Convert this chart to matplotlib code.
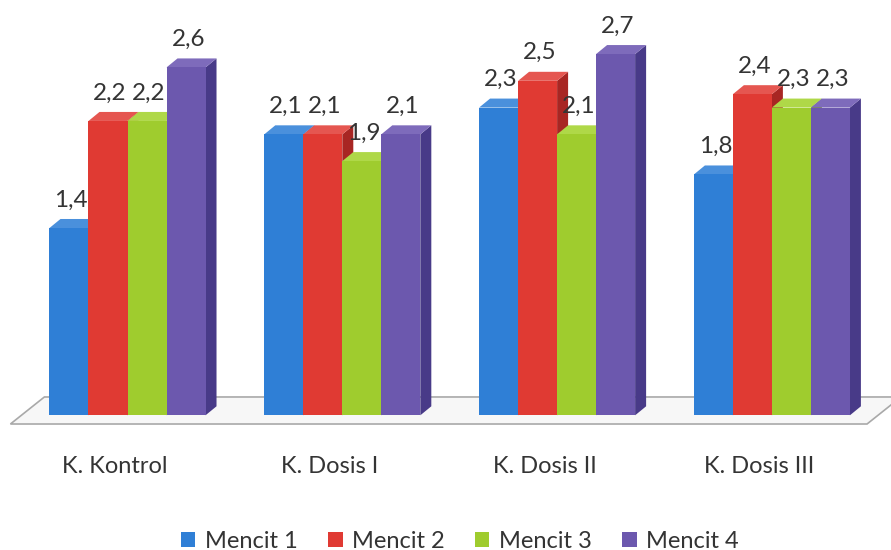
import numpy as np
import matplotlib.pyplot as plt
from matplotlib.patches import Polygon, Patch

groups = ['K. Kontrol', 'K. Dosis I', 'K. Dosis II', 'K. Dosis III']
series = ['Mencit 1', 'Mencit 2', 'Mencit 3', 'Mencit 4']
mencit1 = [1.4, 2.1, 2.3, 1.8]
mencit2 = [2.2, 2.1, 2.5, 2.4]
mencit3 = [2.2, 1.9, 2.1, 2.3]
mencit4 = [2.6, 2.1, 2.7, 2.3]

# front, side, top colour for each series
front_cols = ['#2f7fd6', '#e03a33', '#9fcc2e', '#6c58ae']
side_cols = ['#1f5ea8', '#a82623', '#779e1e', '#483a88']
top_cols = ['#4a90dc', '#e55650', '#afd848', '#7e6bbb']

plt.rcParams['font.family'] = ['Lato', 'DejaVu Sans']
txt = '#343434'

fig = plt.figure(figsize=(8.91, 5.5), dpi=100)
ax = fig.add_axes([0, 0, 1, 1])
ax.set_xlim(-0.5936, 3.5545)
ax.set_ylim(-1.0067, 3.104)
ax.axis('off')

w = 0.1816        # bar width
dx, dy = 0.0512, 0.0673   # depth of the bars

# floor
fl_y0, fl_y1 = -0.065, 0.137
fl_x0, fl_x1 = -0.545, 3.443
fl_d = 0.158
ax.add_patch(Polygon([(fl_x0, fl_y0), (fl_x1, fl_y0), (fl_x1 + fl_d, fl_y1),
                      (fl_x0 + fl_d, fl_y1)], closed=True,
                     facecolor='#f7f7f7', edgecolor='#a9a9a9', lw=1.2, zorder=1))

data = [mencit1, mencit2, mencit3, mencit4]
z = 2
for i in range(len(groups)):
    for j, vals in enumerate(data):
        v = vals[i]
        x0 = i + (j - 2) * w
        x1 = x0 + w
        ax.add_patch(Polygon([(x1, 0), (x1 + dx, dy), (x1 + dx, v + dy), (x1, v)],
                             closed=True, facecolor=side_cols[j], lw=0, zorder=z))
        ax.add_patch(Polygon([(x0, v), (x1, v), (x1 + dx, v + dy), (x0 + dx, v + dy)],
                             closed=True, facecolor=top_cols[j], lw=0, zorder=z))
        ax.bar(x0, v, width=w, align='edge', color=front_cols[j], lw=0, zorder=z + 0.5)
        ax.text(x0 + w / 2 + 0.01, v + 0.21, f'{v:.1f}'.replace('.', ','),
                ha='center', va='center', fontsize=17.5, color=txt, zorder=50)
        z += 1

for i, g in enumerate(groups):
    ax.text(i - 0.058, -0.379, g, ha='center', va='center', fontsize=17, color=txt)

handles = [Patch(facecolor=c, edgecolor='none') for c in front_cols]
fig.legend(handles, series, loc='center', bbox_to_anchor=(460 / 891, 9 / 550),
           ncol=4, frameon=False, fontsize=17, handlelength=0.6, handleheight=0.6,
           handletextpad=0.4, columnspacing=1.3, labelcolor=txt)

fig.savefig('out.png', dpi=100)
